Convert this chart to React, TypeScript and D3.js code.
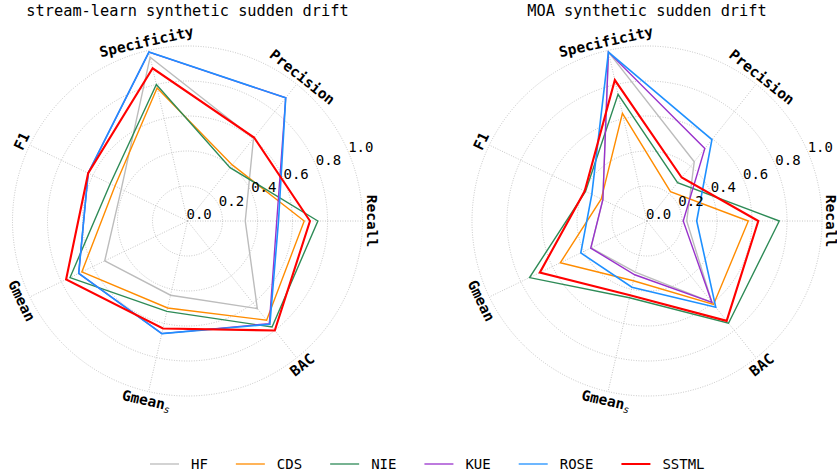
import React from "react";
import * as d3 from "d3";

const METRICS = ["Recall", "Precision", "Specificity", "F1", "Gmean", "Gmean_s", "BAC"];
const SERIES = ["HF", "CDS", "NIE", "KUE", "ROSE", "SSTML"];
const COLORS = ["#bcbcbc", "#ff8c00", "#2e8b57", "#9932cc", "#1e90ff", "#ff0000"];
const WIDTHS = [1.4, 1.4, 1.4, 1.4, 1.6, 2.1];
const RTICKS = [0, 0.2, 0.4, 0.6, 0.8, 1.0];
const TITLES = ["stream-learn synthetic sudden drift", "MOA synthetic sudden drift"];

// values in order: Recall, Precision, Specificity, F1, Gmean, Gmean_s, BAC
const streamHF = [0.33, 0.605, 0.96, 0.42, 0.525, 0.435, 0.64];
const streamCDS = [0.667, 0.41, 0.78, 0.46, 0.67, 0.51, 0.725];
const streamNIE = [0.745, 0.39, 0.8, 0.49, 0.745, 0.53, 0.775];
const streamKUE = [0.51, 0.9, 0.99, 0.63, 0.69, 0.66, 0.75];
const streamROSE = [0.52, 0.9, 0.99, 0.63, 0.69, 0.66, 0.755];
const streamSSTML = [0.7, 0.61, 0.895, 0.63, 0.77, 0.63, 0.8];

const moaHF = [0.227, 0.433, 0.99, 0.28, 0.355, 0.3, 0.595];
const moaCDS = [0.579, 0.215, 0.631, 0.29, 0.55, 0.35, 0.61];
const moaNIE = [0.756, 0.28, 0.743, 0.39, 0.745, 0.45, 0.747];
const moaKUE = [0.207, 0.53, 0.99, 0.28, 0.357, 0.315, 0.595];
const moaROSE = [0.284, 0.595, 0.99, 0.35, 0.42, 0.388, 0.63];
const moaSSTML = [0.636, 0.318, 0.826, 0.395, 0.68, 0.435, 0.73];

const CHARTS = [
  { title: TITLES[0], cx: 187.5, data: [streamHF, streamCDS, streamNIE, streamKUE, streamROSE, streamSSTML] },
  { title: TITLES[1], cx: 647, data: [moaHF, moaCDS, moaNIE, moaKUE, moaROSE, moaSSTML] },
];

const FONT = "'DejaVu Sans Mono', monospace";
const R = 175;
const CY = 221;
const GRID = "#b0b0b0";

const rScale = d3.scaleLinear().domain([0, 1]).range([0, R]);
// matplotlib-style angle (ccw from east), radians
const thetaScale = d3.scaleLinear().domain([0, METRICS.length]).range([0, 2 * Math.PI]);

function Radar({ title, cx, data }: { title: string; cx: number; data: number[][] }) {
  const line = d3
    .lineRadial<number>()
    .angle((_, i) => Math.PI / 2 - thetaScale(i))
    .radius((v) => rScale(v))
    .curve(d3.curveLinearClosed);
  const tickAngle = (22.5 * Math.PI) / 180;
  return (
    <g>
      <text x={cx} y={16} textAnchor="middle" fontFamily={FONT} fontSize={15.3} fill="#000">
        {title}
      </text>
      <g transform={`translate(${cx},${CY})`}>
        {RTICKS.filter((t) => t > 0).map((t) => (
          <circle key={t} r={rScale(t)} fill="none" stroke={GRID} strokeWidth={0.8} strokeDasharray="0.9 1.6" />
        ))}
        {METRICS.map((m, i) => {
          const th = thetaScale(i);
          return (
            <line
              key={m}
              x1={0}
              y1={0}
              x2={rScale(1) * Math.cos(th)}
              y2={-rScale(1) * Math.sin(th)}
              stroke={GRID}
              strokeWidth={0.8}
              strokeDasharray="0.9 1.6"
            />
          );
        })}
        {data.map((vals, s) => (
          <path key={SERIES[s]} d={line(vals) || ""} fill="none" stroke={COLORS[s]} strokeWidth={WIDTHS[s]} strokeLinejoin="miter" />
        ))}
        {RTICKS.map((t) => {
          const px = rScale(t) * Math.cos(tickAngle);
          const py = -rScale(t) * Math.sin(tickAngle);
          return (
            <text key={t} x={px - 1} y={py - 2} fontFamily={FONT} fontSize={14} fill="#000">
              {t.toFixed(1)}
            </text>
          );
        })}
        {METRICS.map((m, i) => {
          const th = thetaScale(i);
          const deg = (th * 180) / Math.PI;
          const rot = deg < 180 ? deg - 90 : deg - 270;
          const rr = R + 9;
          const x = rr * Math.cos(th);
          const y = -rr * Math.sin(th);
          const isSub = m === "Gmean_s";
          return (
            <text
              key={m}
              transform={`translate(${x},${y}) rotate(${-rot})`}
              textAnchor="middle"
              dominantBaseline="central"
              fontFamily={FONT}
              fontWeight="bold"
              fontSize={14.5}
              fill="#000"
            >
              {isSub ? (
                <>
                  Gmean
                  <tspan fontSize={10} fontStyle="italic" fontWeight="normal" dy={4}>
                    s
                  </tspan>
                </>
              ) : (
                m
              )}
            </text>
          );
        })}
      </g>
    </g>
  );
}

function Legend() {
  const fs = 14;
  const adv = fs * 0.602;
  let x = 150;
  const items = SERIES.map((s, i) => {
    const item = { s, i, x };
    x += 29 + 12 + s.length * adv + 28;
    return item;
  });
  return (
    <g>
      {items.map(({ s, i, x }) => (
        <g key={s}>
          <line x1={x} x2={x + 29} y1={464} y2={464} stroke={COLORS[i]} strokeWidth={2} strokeOpacity={s === "SSTML" ? 1 : 0.65} />
          <text x={x + 41} y={464} dominantBaseline="central" fontFamily={FONT} fontSize={fs} fill="#000">
            {s}
          </text>
        </g>
      ))}
    </g>
  );
}

export default function App() {
  return (
    <svg
      width={837}
      height={476}
      viewBox="0 0 837 476"
      style={{ position: "absolute", left: 0, top: 0, background: "#fff" }}
    >
      <rect width={837} height={476} fill="#fff" />
      {CHARTS.map((c) => (
        <Radar key={c.title} title={c.title} cx={c.cx} data={c.data} />
      ))}
      <Legend />
    </svg>
  );
}
